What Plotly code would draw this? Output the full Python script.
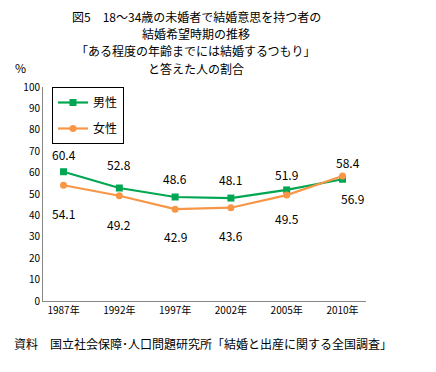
import plotly.graph_objects as go

years = ["1987年", "1992年", "1997年", "2002年", "2005年", "2010年"]
male = [60.4, 52.8, 48.6, 48.1, 51.9, 56.9]
female = [54.1, 49.2, 42.9, 43.6, 49.5, 58.4]
y_ticks = list(range(0, 101, 10))

title_lines = [
    "図5　18～34歳の未婚者で結婚意思を持つ者の",
    "結婚希望時期の推移",
    "「ある程度の年齢までには結婚するつもり」",
    "と答えた人の割合",
]
source_text = "資料　国立社会保障･人口問題研究所「結婚と出産に関する全国調査」"

OFF = 8  # default body margin of the html page
W, H = 436 - OFF, 372 - OFF
L, R, T, B = 43, 366, 87, 301  # in window pixels
FONT = "Noto Sans CJK JP"
GREEN = "#00A651"
ORANGE = "#F79646"


def px(x):
    return (x - L) / (R - L)


def py(y):
    return (B - y) / (B - T)


fig = go.Figure()
fig.add_trace(go.Scatter(
    x=years, y=male, name="男性", mode="lines+markers",
    line=dict(color=GREEN, width=2.2),
    marker=dict(symbol="square", size=7, color=GREEN),
    legendgroup="m",
))
fig.add_trace(go.Scatter(
    x=years, y=female, name="女性", mode="lines+markers",
    line=dict(color=ORANGE, width=2.2),
    marker=dict(symbol="circle", size=7, color=ORANGE),
    legendgroup="f",
))

annotations = []
male_shift = [17, 24, 19, 19, 15, -19]
male_x = [0, 0, 0, 0, 0, 10]
female_shift = [-28, -29, -27, -28, -23, 14]
female_x = [0, 0, 0, 0, 0, 5]
for i, (yr, v) in enumerate(zip(years, male)):
    annotations.append(dict(x=yr, y=v, text=f"{v:.1f}", showarrow=False,
                            xref="x", yref="y", yshift=male_shift[i], xshift=male_x[i],
                            font=dict(family=FONT, size=12, color="#000")))
for i, (yr, v) in enumerate(zip(years, female)):
    annotations.append(dict(x=yr, y=v, text=f"{v:.1f}", showarrow=False,
                            xref="x", yref="y", yshift=female_shift[i], xshift=female_x[i],
                            font=dict(family=FONT, size=12, color="#000")))

title_y = [16.5, 34, 51, 68]
for t, yy in zip(title_lines, title_y):
    annotations.append(dict(x=px(196), y=py(yy), xref="paper", yref="paper",
                            text=t, showarrow=False, xanchor="center", yanchor="middle",
                            borderpad=0,
                            font=dict(family=FONT, size=12, color="#000")))
annotations.append(dict(x=px(20), y=py(67), xref="paper", yref="paper", text="%",
                        showarrow=False, xanchor="center", yanchor="middle",
                        font=dict(family=FONT, size=12, color="#000")))
annotations.append(dict(x=px(12), y=py(343), xref="paper", yref="paper", text=source_text,
                        showarrow=False, xanchor="left", yanchor="middle",
                        font=dict(family=FONT, size=12, color="#000")))

fig.update_layout(
    width=W, height=H,
    margin=dict(l=L - OFF, r=436 - R, t=T - OFF, b=372 - B, pad=0),
    plot_bgcolor="white", paper_bgcolor="white",
    font=dict(family=FONT, size=10, color="#000"),
    showlegend=True,
    legend=dict(x=px(52), y=py(87), xanchor="left", yanchor="top",
                bordercolor="#000", borderwidth=1, bgcolor="white",
                font=dict(family=FONT, size=12), tracegroupgap=7,
                itemwidth=30),
    annotations=annotations,
    xaxis=dict(type="category", showgrid=False, showline=True, linecolor="#888",
               linewidth=1, ticks="", tickfont=dict(size=10, family=FONT)),
    yaxis=dict(range=[0, 100], tickvals=y_ticks, showgrid=False, showline=True,
               linecolor="#888", linewidth=1, ticks="", zeroline=False,
               tickfont=dict(size=10, family=FONT)),
)

fig.write_html("out.html")
